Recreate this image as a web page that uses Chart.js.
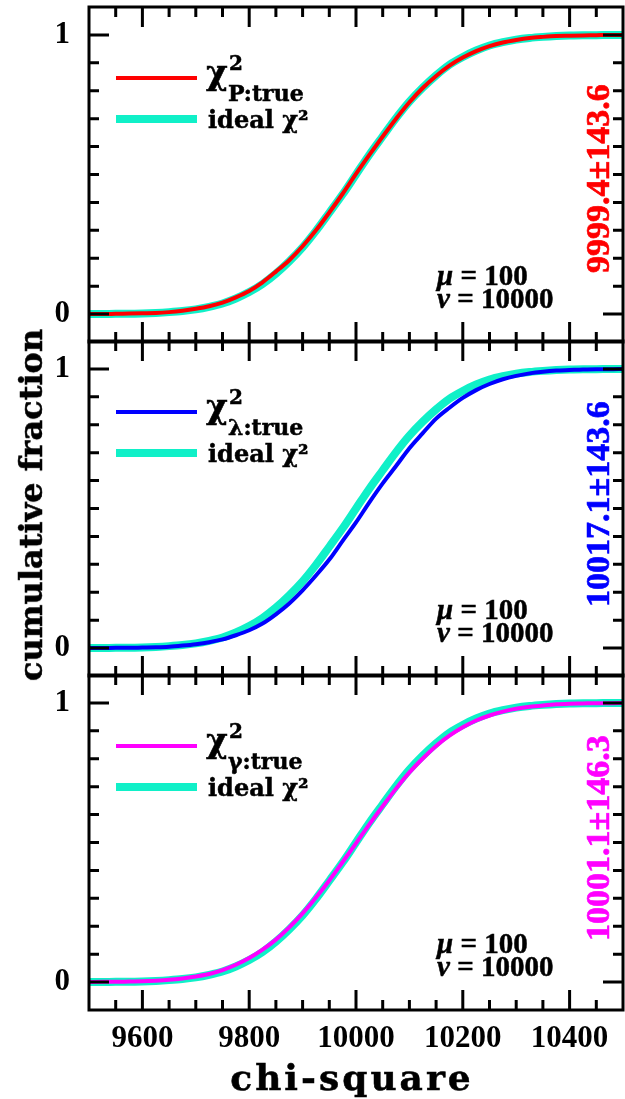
<!DOCTYPE html>
<html>
<head>
<meta charset="utf-8">
<script src="https://cdn.jsdelivr.net/npm/chart.js@4.4.1/dist/chart.umd.min.js"></script>
<style>
    body { margin: 0; background: #fff; width: 625px; height: 1099px; position: relative; overflow: hidden; }
    canvas { position: absolute; left: 0; }
    .t { position: absolute; white-space: nowrap; line-height: 1; color: #000; font-weight: bold; font-family: "DejaVu Serif", serif; transform: translateY(-50%); -webkit-text-stroke: 0.5px currentColor; }
    .num { font-family: "Liberation Serif", serif; }
    .sw { position: absolute; }
    .rot { position: absolute; width: 0; height: 0; }
    .rot div { position: absolute; left: 0; top: 0; white-space: nowrap; line-height: 1; font-weight: bold; transform-origin: 0 0; transform: rotate(-90deg) translateY(-50%); -webkit-text-stroke: 0.7px currentColor; }
</style>
</head>
<body>
<script>
// 数据: chi-square 取值与累积分布
const chiSquare = [9500, 9525, 9550, 9575, 9600, 9625, 9650, 9675, 9700, 9725,
    9750, 9775, 9800, 9825, 9850, 9875, 9900, 9925, 9950, 9975,
    10000, 10025, 10050, 10075, 10100, 10125, 10150, 10175, 10200, 10225,
    10250, 10275, 10300, 10325, 10350, 10375, 10400, 10425, 10450, 10475, 10500];
const idealCdf = [0.000, 0.000, 0.001, 0.001, 0.002, 0.004, 0.007, 0.011, 0.017, 0.026,
    0.038, 0.056, 0.079, 0.108, 0.145, 0.189, 0.239, 0.298, 0.363, 0.429,
    0.500, 0.571, 0.637, 0.702, 0.761, 0.811, 0.855, 0.893, 0.921, 0.944,
    0.962, 0.974, 0.983, 0.989, 0.993, 0.996, 0.998, 0.999, 0.999, 1.000, 1.000];
const pTrueCdf = [0.000, 0.000, 0.001, 0.002, 0.003, 0.004, 0.007, 0.012, 0.019, 0.028,
    0.041, 0.060, 0.083, 0.114, 0.152, 0.193, 0.243, 0.300, 0.364, 0.431,
    0.502, 0.570, 0.636, 0.700, 0.759, 0.810, 0.853, 0.890, 0.919, 0.942,
    0.960, 0.973, 0.982, 0.989, 0.993, 0.996, 0.997, 0.998, 0.999, 1.000, 1.000];
const lambdaTrueCdf = [0.000, 0.000, 0.001, 0.001, 0.002, 0.003, 0.005, 0.009, 0.014, 0.021,
    0.031, 0.046, 0.064, 0.088, 0.121, 0.160, 0.207, 0.260, 0.317, 0.384,
    0.450, 0.522, 0.590, 0.652, 0.716, 0.770, 0.822, 0.861, 0.896, 0.924,
    0.946, 0.963, 0.975, 0.984, 0.990, 0.994, 0.996, 0.998, 0.999, 0.999, 1.000];
const gammaTrueCdf = [0.000, 0.001, 0.001, 0.002, 0.003, 0.005, 0.008, 0.013, 0.020, 0.029,
    0.043, 0.062, 0.086, 0.116, 0.152, 0.196, 0.246, 0.303, 0.364, 0.430,
    0.497, 0.565, 0.630, 0.693, 0.751, 0.801, 0.846, 0.883, 0.913, 0.937,
    0.955, 0.969, 0.979, 0.986, 0.991, 0.995, 0.997, 0.998, 0.999, 0.999, 1.000];

const seriesNames = ['P', 'λ', 'γ'];
const seriesColors = ['#ff0000', '#0000ff', '#ff00ff'];
const fitLabels = ['9999.4±143.6', '10017.1±143.6', '10001.1±146.3'];
const xTickLabels = [9600, 9800, 10000, 10200, 10400];
const yTickLabels = [0, 1];
const idealColor = '#10f0c8';

const panelTops = [7, 341, 675];
const panelHeight = 335;
const pad = 7;

// 边框和向内的刻度
const frameTicks = {
    id: 'frameTicks',
    afterDatasetsDraw(chart) {
        const { ctx, chartArea: a, scales: { x, y } } = chart;
        ctx.save();
        ctx.strokeStyle = '#000';
        ctx.lineWidth = 3;
        ctx.beginPath();
        x.ticks.forEach(t => {
            if (t.value <= x.min || t.value >= x.max) return;
            const px = x.getPixelForValue(t.value);
            const len = t.value % 200 === 0 ? 20 : 10;
            ctx.moveTo(px, a.bottom); ctx.lineTo(px, a.bottom - len);
            ctx.moveTo(px, a.top); ctx.lineTo(px, a.top + len);
        });
        y.ticks.forEach(t => {
            if (t.value <= y.min + 1e-6 || t.value >= y.max - 1e-6) return;
            const py = y.getPixelForValue(t.value);
            const major = yTickLabels.some(l => Math.abs(l - t.value) < 1e-6);
            const len = major ? 20 : 10;
            ctx.moveTo(a.left, py); ctx.lineTo(a.left + len, py);
            ctx.moveTo(a.right, py); ctx.lineTo(a.right - len, py);
        });
        ctx.stroke();
        ctx.strokeRect(a.left, a.top, a.width, a.height);
        ctx.restore();
    }
};

function addText(cls, html, left, top, size, extra) {
    const d = document.createElement('div');
    d.className = cls;
    d.innerHTML = html;
    d.style.left = left + 'px';
    d.style.top = top + 'px';
    d.style.fontSize = size + 'px';
    if (extra) Object.assign(d.style, extra);
    document.body.appendChild(d);
    return d;
}

function noPad(s) {
    s.paddingTop = 0; s.paddingBottom = 0; s.paddingLeft = 0; s.paddingRight = 0;
}

function makePanel(i, cdf) {
    const top = panelTops[i];
    const last = i === panelTops.length - 1;
    const canvas = document.createElement('canvas');
    canvas.width = 625;
    canvas.height = pad + panelHeight + (last ? 80 : pad);
    canvas.style.top = (top - pad) + 'px';
    document.body.appendChild(canvas);

    new Chart(canvas, {
        type: 'line',
        data: {
            datasets: [{
                label: 'chi2 ' + seriesNames[i] + ':true',
                data: chiSquare.map((x, k) => ({ x: x, y: cdf[k] })),
                borderColor: seriesColors[i],
                borderWidth: 4
            }, {
                label: 'ideal chi2',
                data: chiSquare.map((x, k) => ({ x: x, y: idealCdf[k] })),
                borderColor: idealColor,
                borderWidth: 8
            }]
        },
        options: {
            responsive: false,
            animation: false,
            devicePixelRatio: 1,
            layout: { padding: { top: pad, right: 2, bottom: last ? 0 : pad, left: 0 } },
            elements: {
                point: { radius: 0 },
                line: { cubicInterpolationMode: 'monotone', borderJoinStyle: 'round' }
            },
            plugins: { legend: { display: false }, tooltip: { enabled: false } },
            scales: {
                x: {
                    type: 'linear', min: 9500, max: 10500,
                    grid: { display: false, drawTicks: false },
                    border: { display: false },
                    ticks: {
                        stepSize: 50, maxTicksLimit: 50, autoSkip: false, maxRotation: 0,
                        display: last, padding: 10, color: '#000',
                        font: { family: 'Liberation Serif', weight: 'bold', size: 31 },
                        callback: v => xTickLabels.includes(v) ? String(v) : ''
                    },
                    afterFit: s => { s.height = last ? 80 : 0; noPad(s); }
                },
                y: {
                    min: -0.1, max: 1.1,
                    grid: { display: false, drawTicks: false },
                    border: { display: false },
                    ticks: {
                        stepSize: 0.1, maxTicksLimit: 50, autoSkip: false,
                        padding: 19, color: '#000',
                        font: { family: 'Liberation Serif', weight: 'bold', size: 31 },
                        callback: v => {
                            const l = yTickLabels.find(t => Math.abs(t - v) < 1e-6);
                            return l === undefined ? '' : String(l);
                        }
                    },
                    afterFit: s => { s.width = 89; noPad(s); }
                }
            }
        },
        plugins: [frameTicks]
    });

    // 图例
    const sw1 = document.createElement('div');
    sw1.className = 'sw';
    Object.assign(sw1.style, { left: '116px', top: (top + 69) + 'px', width: '81px', height: '4px', background: seriesColors[i] });
    document.body.appendChild(sw1);
    const sw2 = document.createElement('div');
    sw2.className = 'sw';
    Object.assign(sw2.style, { left: '116px', top: (top + 108) + 'px', width: '81px', height: '8px', background: idealColor });
    document.body.appendChild(sw2);

    addText('t', 'χ', 206, top + 65, 33);
    addText('t', '2', 229, top + 56, 20);
    addText('t', seriesNames[i] + ':true', 228, top + 86, 22);
    addText('t', 'ideal χ²', 208, top + 113, 24);

    addText('t num', '<i>μ</i> = 100', 437, top + 268, 29);
    addText('t num', '<i>ν</i> = 10000', 437, top + 291, 29);

    // 竖排的拟合值
    const r = document.createElement('div');
    r.className = 'rot';
    r.style.left = '598px';
    r.style.top = (top + 266) + 'px';
    r.innerHTML = `<div style="font-family:'Liberation Serif';font-size:34px;color:${seriesColors[i]}">${fitLabels[i]}</div>`;
    document.body.appendChild(r);
}

makePanel(0, pTrueCdf);
makePanel(1, lambdaTrueCdf);
makePanel(2, gammaTrueCdf);

// 轴标题
addText('t', 'chi-square', 352, 1077, 36, { transform: 'translate(-50%, -50%)', letterSpacing: '3px' });
addText('t', 'cumulative fraction', 31, 505, 32, { transform: 'translate(-50%, -50%) rotate(-90deg)' });
</script>
</body>
</html>
